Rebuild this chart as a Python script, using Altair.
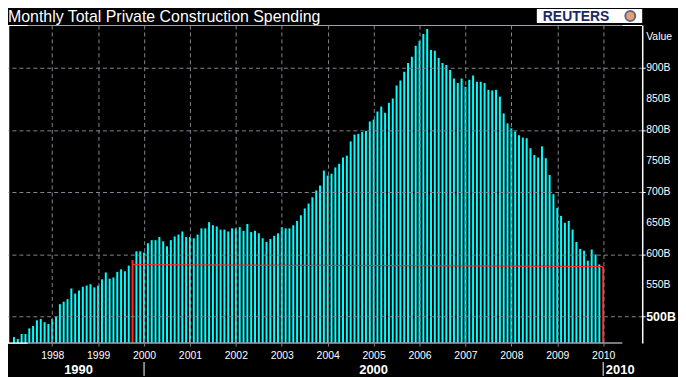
import altair as alt
import pandas as pd

# ---- data (billions of dollars, monthly) ----
start_1997_month = 3
v1997 = [467, 464, 472, 472, 481, 485, 494, 496, 491, 488]
v1998 = [496, 500, 520, 524, 528, 545, 537, 542, 548, 550, 552, 547]
v1999 = [550, 560, 571, 561, 563, 572, 576, 573, 582, 591, 605, 605]
v2000 = [603, 618, 623, 623, 628, 621, 613, 623, 629, 632, 637, 628]
v2001 = [628, 626, 632, 642, 642, 652, 647, 645, 640, 640, 637, 642]
v2002 = [642, 644, 638, 649, 636, 638, 634, 626, 620, 625, 630, 634]
v2003 = [644, 642, 642, 647, 654, 663, 674, 682, 692, 703, 711, 735]
v2004 = [727, 730, 740, 746, 756, 759, 782, 793, 794, 797, 799, 814]
v2005 = [817, 830, 838, 828, 844, 851, 872, 880, 894, 908, 918, 936]
v2006 = [944, 955, 963, 929, 928, 916, 908, 905, 897, 883, 876, 883]
v2007 = [870, 881, 888, 878, 878, 876, 865, 864, 865, 854, 827, 811]
v2008 = [803, 798, 792, 788, 787, 771, 760, 756, 774, 755, 728, 697]
v2009 = [675, 662, 651, 654, 640, 620, 609, 606, 590, 608, 600, 584]
v2010 = [580]
highlight = ["1999-10", "2010-01"]

# red comparison line (from the Oct-1999 bar to the Jan-2010 bar)
line_start = ("1999-10", 583.5)
line_end = ("2010-01", 580.5)

year_ticks = list(range(1998, 2011))
value_ticks = [550, 600, 650, 700, 750, 800, 850, 900, 950]
value_labels = ["550B", "600B", "650B", "700B", "750B", "800B", "850B", "900B", "Value"]
base_tick = [500]
base_label = ["500B"]
decades = ["1990", "2000", "2010"]

# ---- build table ----
series = [(1997, start_1997_month, v1997), (1998, 1, v1998), (1999, 1, v1999),
          (2000, 1, v2000), (2001, 1, v2001), (2002, 1, v2002), (2003, 1, v2003),
          (2004, 1, v2004), (2005, 1, v2005), (2006, 1, v2006), (2007, 1, v2007),
          (2008, 1, v2008), (2009, 1, v2009), (2010, 1, v2010)]
rows = []
for yr, m0, vals in series:
    for i, v in enumerate(vals):
        m = m0 + i
        key = f"{yr}-{m:02d}"
        rows.append({"t": yr + (m - 1) / 12.0, "v": v, "key": key,
                     "hl": "h" if key in highlight else "n"})
df = pd.DataFrame(rows)


def ym(s):
    y, m = s.split("-")
    return int(y) + (int(m) - 1) / 12.0


x0, x1 = 1997.145, 2010.742
y0, y1 = 457.3, 969.3
W, H = 638, 320
FONT = "Liberation Sans"
GRID = "#85858f"
LINE = "#a0a0b0"
RED = "#ff2a2a"

xscale = alt.Scale(domain=[x0, x1], nice=False, zero=False)
yscale = alt.Scale(domain=[y0, y1], nice=False, zero=False)

bars = alt.Chart(df).mark_bar(width=2).encode(
    x=alt.X("t:Q", scale=xscale, axis=alt.Axis(
        values=year_ticks, format="d", orient="bottom", title=None,
        labelColor="white", labelFont=FONT, labelFontSize=10.5,
        labelPadding=4, labelFlush=False, labelOverlap=False,
        tickColor=GRID, tickSize=3, domain=False,
        grid=True, gridColor=GRID, gridDash=[4, 3], gridWidth=1, zindex=1)),
    y=alt.Y("v:Q", scale=yscale, axis=alt.Axis(
        values=base_tick + value_ticks, orient="right", title=None, labels=False,
        tickColor="white", tickSize=3, domain=True, domainColor="white", domainWidth=1.5,
        grid=True, gridColor=GRID, gridDash=[4, 3], gridWidth=1, zindex=1)),
    y2=alt.datum(y0),
    color=alt.Color("hl:N", scale=alt.Scale(domain=["n", "h"], range=["#00ffff", RED]), legend=None),
)

ylab_df = pd.DataFrame({"v": value_ticks, "label": value_labels})
ylabels = alt.Chart(ylab_df).mark_text(
    align="left", baseline="middle", font=FONT, fontSize=10.5, color="white").encode(
    x=alt.value(W + 4), y=alt.Y("v:Q"), text="label:N")
blab_df = pd.DataFrame({"v": base_tick, "label": base_label})
blabel = alt.Chart(blab_df).mark_text(
    align="left", baseline="middle", font=FONT, fontSize=12.5, fontWeight="bold",
    color="white").encode(x=alt.value(W + 4), y=alt.Y("v:Q"), text="label:N")

red_df = pd.DataFrame({"t": [ym(line_start[0])], "t2": [ym(line_end[0])],
                       "v": [line_start[1]], "v2": [line_end[1]]})
red_line = alt.Chart(red_df).mark_rule(color=RED, strokeWidth=1.2).encode(
    x="t:Q", x2="t2:Q", y="v:Q", y2="v2:Q")

one = pd.DataFrame({"k": [0]})


def seg(xa, xb, ya, yb, color, w=1.0):
    return alt.Chart(one).mark_rule(color=color, strokeWidth=w).encode(
        x=alt.value(xa), x2=alt.value(xb), y=alt.value(ya), y2=alt.value(yb))


frame = [
    seg(0.5, 0.5, 0, H, "white", 1.5),
    seg(0, 20, 0.5, 0.5, "white"),
    seg(20, 618, 0.5, 0.5, LINE),
    seg(618, W, 0.5, 0.5, "white"),
    seg(0, 20, H, H, "white", 1.5),
    seg(20, 618, H, H, LINE, 1.5),
]

title = alt.Chart(one).mark_text(
    text="Monthly Total Private Construction Spending", align="left",
    baseline="alphabetic", font=FONT, fontSize=16, color="white").encode(
    x=alt.value(0), y=alt.value(-3.5))

logo_box = alt.Chart(one).mark_rect(color="white").encode(
    x=alt.value(532), x2=alt.value(638), y=alt.value(-16), y2=alt.value(-2))
logo_text = alt.Chart(one).mark_text(
    text="REUTERS", align="left", baseline="alphabetic", font=FONT,
    fontSize=14, fontWeight="bold", color="#1b2a63").encode(
    x=alt.value(538), y=alt.value(-4))
logo_globe = alt.Chart(one).mark_point(
    shape="circle", size=100, filled=True, color="#e07a2a",
    stroke="#1b2a63", strokeWidth=2).encode(x=alt.value(626), y=alt.value(-9))

dec_df = pd.DataFrame({"label": decades,
                       "t": [(x0 + 2000) / 2, (2000 + 2010) / 2, (2010 + x1) / 2]})
dec_text = alt.Chart(dec_df).mark_text(
    baseline="alphabetic", align="center", font=FONT, fontSize=13,
    fontWeight="bold", color="white").encode(
    x="t:Q", y=alt.value(351), text="label:N")

sep_df = pd.DataFrame({"t": [2000.0, 2010.0]})
seps = alt.Chart(sep_df).mark_rule(color="white", strokeWidth=1).encode(
    x="t:Q", y=alt.value(339), y2=alt.value(353))

chart = alt.layer(
    bars, red_line, *frame, ylabels, blabel, title, logo_box, logo_text, logo_globe,
    dec_text, seps
).properties(
    width=W, height=H,
    padding={"left": 0, "top": 16, "right": 36, "bottom": 33},
    autosize=alt.AutoSizeParams(type="none"),
    background="black",
).configure_view(stroke=None)

chart.save("out.html", embed_options={"renderer": "svg", "actions": False})
